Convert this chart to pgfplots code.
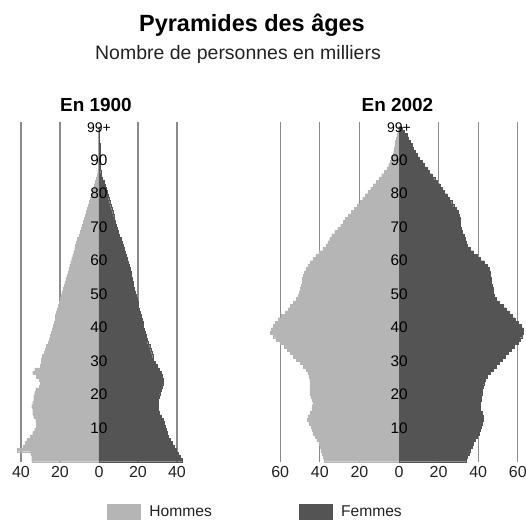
\documentclass[border=0pt]{standalone}
\usepackage{pgfplots}
\usepackage{pgfplotstable}
\pgfplotsset{compat=1.18}
\usepackage{fontspec}
\setmainfont{Liberation Sans}
\definecolor{hom}{RGB}{181,181,181}
\definecolor{fem}{RGB}{84,84,84}
\definecolor{gridc}{RGB}{140,140,140}
\definecolor{txt}{RGB}{34,34,34}

\pgfplotstableread{
a h f
0 34.5 42.5
1 34.5 41.5
2 35 40.5
3 42 39.5
4 39 38.5
5 38 37.5
6 37 36.5
7 35.5 35.5
8 34 35
9 33 34.5
10 32 34
11 32 33.5
12 32.5 33
13 33.5 32
14 34 31
15 34 30.5
16 34.5 30.5
17 34 30.5
18 33.5 30.5
19 33.5 31
20 33 31.5
21 32.5 32
22 30.5 32.5
23 30 33
24 30.5 33
25 32 32.5
26 34 32
27 33 31
28 30 30
29 29.5 29
30 29.5 28
31 29 27.5
32 28 27
33 27.5 26.5
34 27 26
35 26 25
36 25.5 24.5
37 25 24
38 24.5 23.5
39 24 23
40 23.5 22.5
41 23 22.5
42 22.5 22
43 22.5 21.5
44 22 21
45 21.5 20.5
46 21 20
47 20.5 20
48 20 19.5
49 19.5 19
50 19 18.5
51 18.5 18
52 18 17.5
53 17.5 17.5
54 17 17
55 16.5 16.5
56 16 16.5
57 15.5 16
58 15 15.5
59 14.5 15
60 14 14.5
61 13.5 14
62 13 13.5
63 12.5 13
64 12 12.5
65 11.5 12
66 11 11.5
67 10 10.5
68 9.5 10
69 9 9.5
70 8.5 9
71 8 8.5
72 7.5 8
73 7 7.5
74 6.5 7
75 6 6.5
76 5.5 6
77 5 5.5
78 4.5 5
79 4 4.5
80 3.5 4
81 3 3.5
82 2.5 3
83 2 2.5
84 1.5 1.8
85 1 1.2
86 0.7 0.9
87 0.5 0.7
88 0.4 0.6
89 0.4 0.5
90 0.3 0.5
91 0.3 0.4
92 0.3 0.4
93 0.3 0.4
94 0.3 0.4
95 0.3 0.3
96 0.3 0.3
97 0.3 0.3
98 0.3 0.3
99 0.3 0.3
}\dataA

\pgfplotstableread{
a h f
0 38 34
1 38.5 34.5
2 39 35.5
3 39.5 36
4 40 37
5 40.5 37.5
6 41.5 38.5
7 42.5 39.5
8 43.5 40.5
9 44 41
10 44.5 41.5
11 45.5 42
12 46.5 42.5
13 46 42.5
14 45 42
15 44 41
16 44 41
17 43.5 41
18 44 41.5
19 44.5 41.5
20 45 42
21 45 42
22 45 42.5
23 45 43
24 45 43.5
25 45.5 44.5
26 46 46
27 47 47.5
28 48.5 49
29 50 50.5
30 52 52
31 53.5 53.5
32 55 55
33 56.5 56.5
34 58 58
35 60 60
36 62 61
37 63.5 62
38 65 62.7
39 64.5 62.7
40 63.5 61.5
41 62.5 60
42 61 58.5
43 59.5 57
44 57.5 55.5
45 56 54
46 55 52.5
47 53.5 50.5
48 52 49
49 51 48
50 50.5 47.5
51 50 47.5
52 49.5 47
53 49 46.5
54 49 46.5
55 48.5 46
56 48 46
57 47 45.5
58 46 44.5
59 45 43
60 43.5 41
61 42 39.5
62 40.5 37.5
63 38.5 36
64 37 34.5
65 36 34
66 35 33.5
67 34 33
68 32.5 32
69 31 31.5
70 29.5 30.8
71 28.3 30.8
72 27 30.8
73 25.7 30.5
74 24.2 29.8
75 22.7 28.7
76 21.2 27.6
77 19.7 26.6
78 18.4 25.5
79 17 24.3
80 15.7 23
81 14.3 21.9
82 13 20.7
83 11.6 19.4
84 10.2 18
85 8.8 16.7
86 7.4 15.3
87 6 14
88 5.2 12.7
89 4.4 11.5
90 3.7 10.2
91 3 9
92 2.7 8.2
93 2.4 7.3
94 2.1 6.5
95 1.8 5.7
96 1.4 4.8
97 1 3.9
98 0.6 2.5
99 0.3 1.5
}\dataB

\tikzset{agel/.style={font=\fontsize{11.5}{13}\selectfont, text=black}}

\pgfplotsset{
  pyr/.style={
    scale only axis,
    anchor=south west,
    height=255pt,
    ymin=0, ymax=101.5,
    ytick=\empty,
    axis line style={draw=none},
    major tick length=0pt,
    xmajorgrids=true,
    grid style={gridc, line width=0.9pt},
    extra tick style={grid=none},
    extra x ticks={0},
    extra x tick labels={0},
    tick label style={font=\fontsize{12}{14}\selectfont, text=txt},
    /pgf/number format/assume math mode=true,
    clip=false,
  },
  hbar/.style={xbar, bar width=1, bar shift=0, fill=hom, draw=hom, line width=0.15pt,
    legend image code/.code={\fill[hom] (0pt,-6pt) rectangle (24.75pt,6pt);}},
  fbar/.style={xbar, bar width=1, bar shift=0, fill=fem, draw=fem, line width=0.15pt,
    legend image code/.code={\fill[fem] (0pt,-6pt) rectangle (24.75pt,6pt);}},
}

\newcommand{\agelabels}{%
  \node[agel] at (axis cs:0,10) {10};
  \node[agel] at (axis cs:0,20) {20};
  \node[agel] at (axis cs:0,30) {30};
  \node[agel] at (axis cs:0,40) {40};
  \node[agel] at (axis cs:0,50) {50};
  \node[agel] at (axis cs:0,60) {60};
  \node[agel] at (axis cs:0,70) {70};
  \node[agel] at (axis cs:0,80) {80};
  \node[agel] at (axis cs:0,90) {90};
  \node[font=\fontsize{10.5}{12}\selectfont, text=black] at (axis cs:0,99.6) {99+};
}

\begin{document}
\begin{tikzpicture}
\useasboundingbox (0pt,0pt) rectangle (394.5pt,390pt);

\node[anchor=base, font=\bfseries\fontsize{17.6}{20}\selectfont] at (189pt,366.2pt) {Pyramides des âges};
\node[anchor=base, font=\fontsize{14.6}{17}\selectfont, text=txt] at (178.5pt,345.5pt) {Nombre de personnes en milliers};
\node[anchor=base, font=\bfseries\fontsize{14.2}{16}\selectfont] at (72pt,306pt) {En 1900};
\node[anchor=base, font=\bfseries\fontsize{14.2}{16}\selectfont] at (298.1pt,306pt) {En 2002};

\begin{axis}[pyr,
  at={(4.05pt,43.725pt)},
  width=140.4pt,
  xmin=-48, xmax=48,
  xtick={-40,-20,20,40},
  xticklabels={40,20,20,40},
  legend columns=2,
  legend style={draw=none, fill=none, at={(axis description cs:0.541,-0.147)}, anchor=west,
    inner sep=0pt, font=\fontsize{11.7}{13}\selectfont, text=txt,
    /tikz/every odd column/.append style={column sep=5pt},
    /tikz/every even column/.append style={column sep=63pt}},
]
\addplot[hbar] table[x expr=-\thisrow{h}, y expr=\thisrow{a}+0.5] {\dataA};
\addlegendentry{Hommes}
\addplot[fbar] table[x=f, y expr=\thisrow{a}+0.5] {\dataA};
\addlegendentry{Femmes}
\agelabels
\end{axis}

\begin{axis}[pyr,
  at={(205.725pt,43.725pt)},
  width=187.1pt,
  xmin=-63, xmax=63,
  xtick={-60,-40,-20,20,40,60},
  xticklabels={60,40,20,20,40,60},
]
\addplot[hbar] table[x expr=-\thisrow{h}, y expr=\thisrow{a}+0.5] {\dataB};
\addplot[fbar] table[x=f, y expr=\thisrow{a}+0.5] {\dataB};
\agelabels
\end{axis}
\end{tikzpicture}
\end{document}
